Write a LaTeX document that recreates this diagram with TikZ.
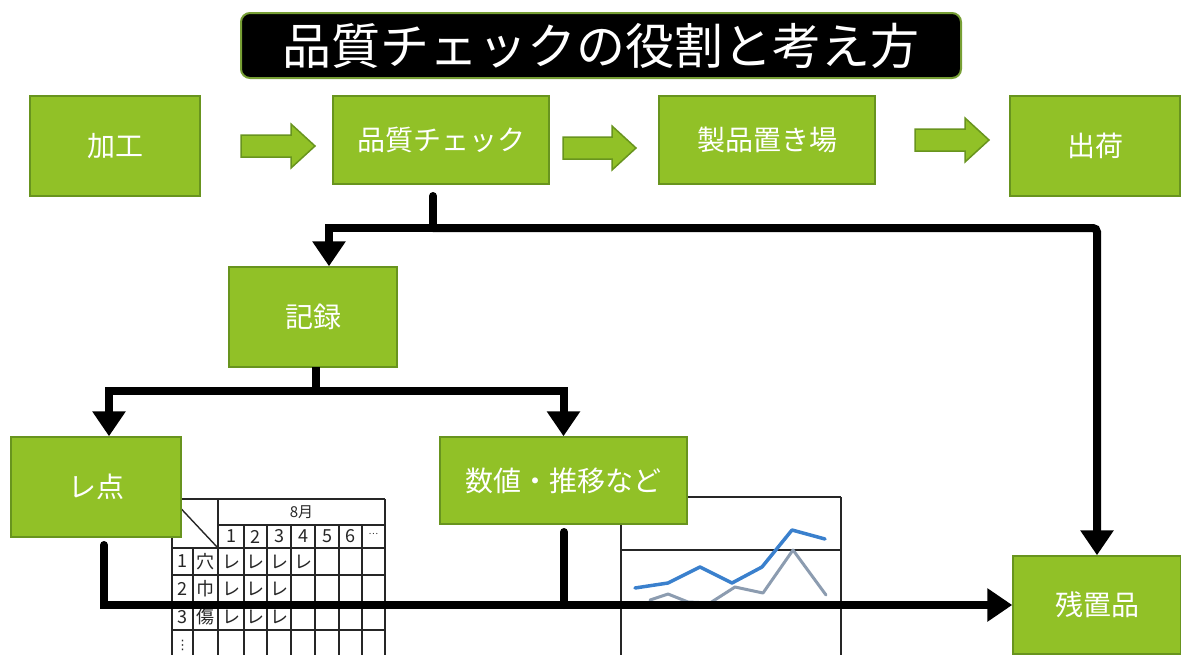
\documentclass[tikz,border=0pt]{standalone}
\usepackage{fontspec}
\newfontfamily\jp{Noto Sans CJK JP}
\newfontfamily\dvs{DejaVu Sans}
\usetikzlibrary{arrows.meta}
\definecolor{grn}{RGB}{145,193,39}
\definecolor{grnd}{RGB}{104,148,30}
\definecolor{chartblue}{RGB}{58,128,205}
\definecolor{chartgray}{RGB}{140,156,176}
\begin{document}
\begin{tikzpicture}[x=1pt,y=-1pt,
  box/.style={draw=grnd, line width=1.5pt, fill=grn, text=white, font=\jp\fontsize{28}{30}\selectfont, inner sep=0pt},
  conn/.style={line width=8pt, line cap=round},
  tip/.style={-{Triangle[width=32pt,length=25pt]}},
  blockarrow/.style={draw=grnd, fill=grn, line width=1.5pt, line join=miter},
  gridline/.style={line width=1.4pt, draw=black!85},
  tbl/.style={font=\jp\fontsize{18}{18}\selectfont, inner sep=0pt, text=black!85},
  titlebox/.style={draw=grnd!90, line width=2pt, fill=black, rounded corners=9pt, text=white, font=\jp\fontsize{49}{52}\selectfont, inner sep=0pt}
]
\useasboundingbox (0,0) rectangle (1181,654);

% ---------- title ----------
\node[titlebox, minimum width=720pt, minimum height=65pt] (title) at (601,45.5) {品質チェックの役割と考え方};

% ---------- check table (picture) ----------
\begin{scope}[gridline]
  \draw (172,499) -- (385,499);
  \draw (218,525) -- (385,525);
  \foreach \y in {548,575,603,630} \draw (172,\y) -- (385,\y);
  \draw (172,499) -- (172,660);
  \draw (193,548) -- (193,660);
  \draw (218,499) -- (218,660);
  \foreach \x in {244,267,291,315,339,362} \draw (\x,525) -- (\x,660);
  \draw (385,499) -- (385,660);
  \draw (172,499) -- (218,548);
\end{scope}
\node[tbl, font=\jp\fontsize{15}{15}\selectfont] (t8) at (301.5,512) {8月};
\foreach \t [count=\i] in {1,2,3,4,5,6} {
  \pgfmathsetmacro{\cx}{{231,255.5,279,303,327,350.5}[\i-1]}
  \node[tbl] (d\i) at (\cx,536.5) {\t};
}
\node[tbl, font=\jp\fontsize{9}{9}\selectfont] (dd) at (373.5,534) {…};
\node[tbl] (n1) at (182.5,561.5) {1};
\node[tbl] (k1) at (205.5,561.5) {穴};
\node[tbl] (n2) at (182.5,589) {2};
\node[tbl] (k2) at (205.5,589) {巾};
\node[tbl] (n3) at (182.5,617) {3};
\node[tbl] (k3) at (205.5,617) {傷};
\node[tbl, font=\dvs\fontsize{13}{13}\selectfont] (n4) at (182.5,645) {⋮};
\foreach \cx/\cy [count=\i] in {231/561.5,255.5/561.5,279/561.5,303/561.5,231/589,255.5/589,279/589,231/617,255.5/617,279/617}
  \node[tbl] (re\i) at (\cx,\cy) {レ};

% ---------- line chart (picture) ----------
\begin{scope}[gridline]
  \draw (621,497) -- (841,497);
  \draw (621,497) -- (621,660);
  \draw (841,497) -- (841,660);
  \draw (621,550) -- (841,550);
\end{scope}
\draw[chartgray, line width=3pt, line join=round, line cap=round]
  (650,600) -- (668,594) -- (688,602) -- (710,603) -- (735,587) -- (763,593) -- (793,550) -- (826,595);
\draw[chartblue, line width=3.5pt, line join=round, line cap=round]
  (635,588) -- (668,583) -- (700,567) -- (732,583) -- (762,567) -- (792,530) -- (825,539);

% ---------- boxes ----------
\node[box, minimum width=170pt, minimum height=100pt] (kako) at (115,146) {加工};
\node[box, minimum width=216pt, minimum height=88pt] (qc) at (441,140) {品質チェック};
\node[box, minimum width=216pt, minimum height=88pt] (place) at (767,140) {製品置き場};
\node[box, minimum width=170pt, minimum height=100pt] (ship) at (1095,146) {出荷};
\node[box, minimum width=168pt, minimum height=100pt] (rec) at (313,317) {記録};
\node[box, minimum width=170pt, minimum height=100pt] (chk) at (96,487) {レ点};
\node[box, minimum width=247pt, minimum height=87pt] (num) at (563.5,480.5) {数値・推移など};
\node[box, minimum width=168pt, minimum height=98pt] (res) at (1097,605) {残置品};

% ---------- green block arrows ----------
\draw[blockarrow] (241,135) -- (291,135) -- (291,124) -- (315,146) -- (291,168) -- (291,157) -- (241,157) -- cycle;
\draw[blockarrow] (563,137) -- (612,137) -- (612,126) -- (636,148) -- (612,170) -- (612,159) -- (563,159) -- cycle;
\draw[blockarrow] (915,129) -- (965,129) -- (965,118) -- (989,140) -- (965,162) -- (965,151) -- (915,151) -- cycle;

% ---------- black connectors ----------
\coordinate (qcs) at (433,196);
\coordinate (j1) at (433,228);
\draw[conn] (qcs) -- (j1);
\draw[conn, tip] (j1) -| ([xshift=16pt]rec.north);
\draw[conn, tip, rounded corners=4pt] (j1) -| (res.north);

\coordinate (recs) at (316,367);
\coordinate (j2) at (316,391);
\draw[conn, line cap=butt] (recs) -- (j2);
\draw[conn, tip] (j2) -| ([xshift=13pt]chk.north);
\draw[conn, tip] (j2) -| (num.north);

\coordinate (chks) at (104,545);
\coordinate (nums) at (564,532);
\draw[conn, tip] (chks) |- (res.west);
\draw[conn] (nums) -- (nums |- res.west);
\end{tikzpicture}
\end{document}
